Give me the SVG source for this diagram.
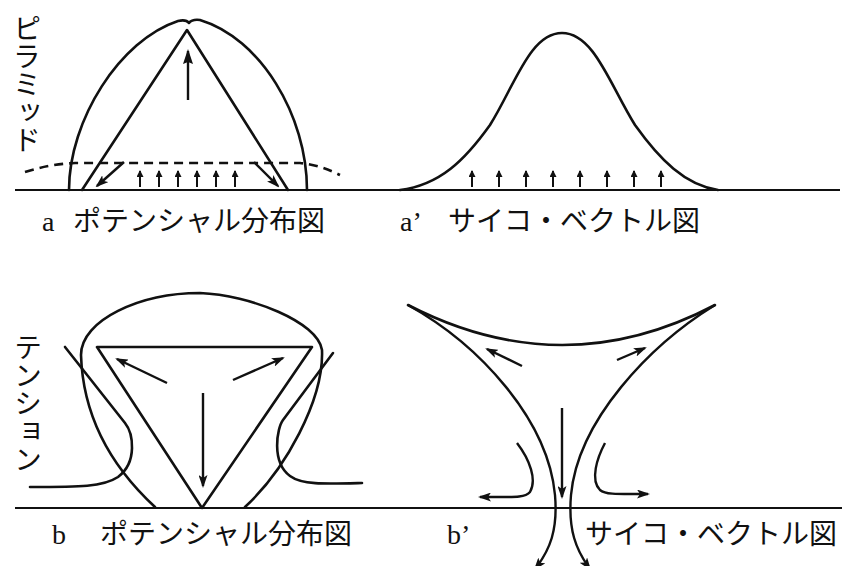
<svg xmlns="http://www.w3.org/2000/svg" width="842" height="566" viewBox="0 0 842 566">
<style>
.ln{fill:none;stroke:#111;stroke-width:2.6;stroke-linecap:round;stroke-linejoin:round}
.base{fill:none;stroke:#111;stroke-width:2.2}
.dash{fill:none;stroke:#111;stroke-width:2.6;stroke-dasharray:9 6}
.arr{fill:none;stroke:#111;stroke-width:2.4;marker-end:url(#ah)}
.sarr{fill:none;stroke:#111;stroke-width:2;marker-end:url(#ahs)}
.lat{font-family:"Liberation Serif",serif;font-size:28px;fill:#111}
.jp{font-family:"Noto Sans CJK JP","Noto Sans CJK SC",sans-serif;font-size:28px;fill:#111}
</style>
<defs>
<marker id="ah" viewBox="0 0 13 9" refX="11" refY="4.5" markerWidth="13" markerHeight="9" markerUnits="userSpaceOnUse" orient="auto"><path d="M0,0 L13,4.5 L0,9 L3,4.5 Z" fill="#111"/></marker>
<marker id="ahs" viewBox="0 0 7 7" refX="6" refY="3.5" markerWidth="7" markerHeight="7" markerUnits="userSpaceOnUse" orient="auto"><path d="M0,0 L7,3.5 L0,7 Z" fill="#111"/></marker>
<marker id="ahb" viewBox="0 0 15 10" refX="13" refY="5" markerWidth="15" markerHeight="10" markerUnits="userSpaceOnUse" orient="auto"><path d="M0,0 L15,5 L0,10 L2,5 Z" fill="#111"/></marker>
</defs>
<rect width="842" height="566" fill="#fff"/>

<g id="baselines">
<line class="base" x1="15" y1="190" x2="840" y2="190"/>
<line class="base" x1="15" y1="508" x2="842" y2="508"/>
</g>

<g id="panel-a">
<path class="ln" d="M69,190 C69,120 120,40 178,21 Q186,19 189,23 Q192,19 200,20 C260,38 307,115 307,190"/>
<path class="ln" d="M82,190 L187,30 L288,190"/>
<path class="dash" d="M25,172 Q50,164 75,163 L300,163 Q320,165 340,175"/>
</g>

<g id="panel-a2">
<path class="ln" d="M400,190 C440,185 465,160 490,125 C515,85 530,33 562,33 C594,33 610,85 635,125 C660,160 685,185 718,190"/>
</g>

<g id="panel-b">
<path class="ln" d="M155,507 C115,470 83,420 81,355 C81,320 140,293 200,293 C250,295 318,322 322,350 C324,400 285,470 245,507"/>
<path class="ln" d="M97,347 L312,347 L202,508 Z"/>
<path class="ln" d="M65,347 L125,423 C133,433 138,462 118,477 C103,487 80,487 30,487"/>
<path class="ln" d="M333,353 L283,420 C277,428 271,462 290,476 C302,485 325,484 362,483"/>
</g>

<g id="panel-b2">
<path class="ln" d="M408,305 Q563,385 715,305"/>
</g>

<g id="connectors">
<path class="arr" style="marker-end:url(#ahb)" d="M188,100 L188,51"/>
<path class="arr" d="M124,162 L97,186"/>
<path class="arr" d="M254,162 L278,186"/>
<path class="sarr" d="M140,187 L140,171"/>
<path class="sarr" d="M159,187 L159,171"/>
<path class="sarr" d="M178,187 L178,171"/>
<path class="sarr" d="M197,187 L197,171"/>
<path class="sarr" d="M216,187 L216,171"/>
<path class="sarr" d="M235,187 L235,171"/>
<path class="sarr" d="M472,187 L472,171"/>
<path class="sarr" d="M499,187 L499,171"/>
<path class="sarr" d="M526,187 L526,171"/>
<path class="sarr" d="M553,187 L553,171"/>
<path class="sarr" d="M580,187 L580,171"/>
<path class="sarr" d="M607,187 L607,171"/>
<path class="sarr" d="M634,187 L634,171"/>
<path class="sarr" d="M661,187 L661,171"/>
<path class="arr" d="M167,383 L117,359"/>
<path class="arr" d="M233,380 L283,358"/>
<path class="arr" d="M203,393 L203,486"/>
<path class="arr" d="M408,305 C480,345 548,420 555,495 C558,530 550,550 535,569"/>
<path class="arr" d="M715,305 C650,345 578,420 571,495 C568,530 576,550 590,569"/>
<path class="arr" d="M522,366 L487,349"/>
<path class="arr" d="M617,360 L645,348"/>
<path class="arr" d="M562,408 L562,497"/>
<path class="arr" d="M517,443 C530,460 537,480 530,492 C525,498 515,497 480,497"/>
<path class="arr" d="M605,443 C597,458 590,480 600,490 C606,495 620,494 648,494"/>
</g>

<g id="labels">
<text class="jp" x="27" y="14" writing-mode="vertical-rl">ピラミッド</text>
<text class="jp" x="28" y="333" writing-mode="vertical-rl">テンション</text>
<text class="lat" x="42" y="231">a</text>
<text class="jp" x="73" y="231">ポテンシャル分布図</text>
<text class="lat" x="400" y="231">a’</text>
<text class="jp" x="448" y="231">サイコ・ベクトル図</text>
<text class="lat" x="52" y="544">b</text>
<text class="jp" x="100" y="544">ポテンシャル分布図</text>
<text class="lat" x="447" y="544">b’</text>
<text class="jp" x="585" y="544">サイコ・ベクトル図</text>
</g>
</svg>
